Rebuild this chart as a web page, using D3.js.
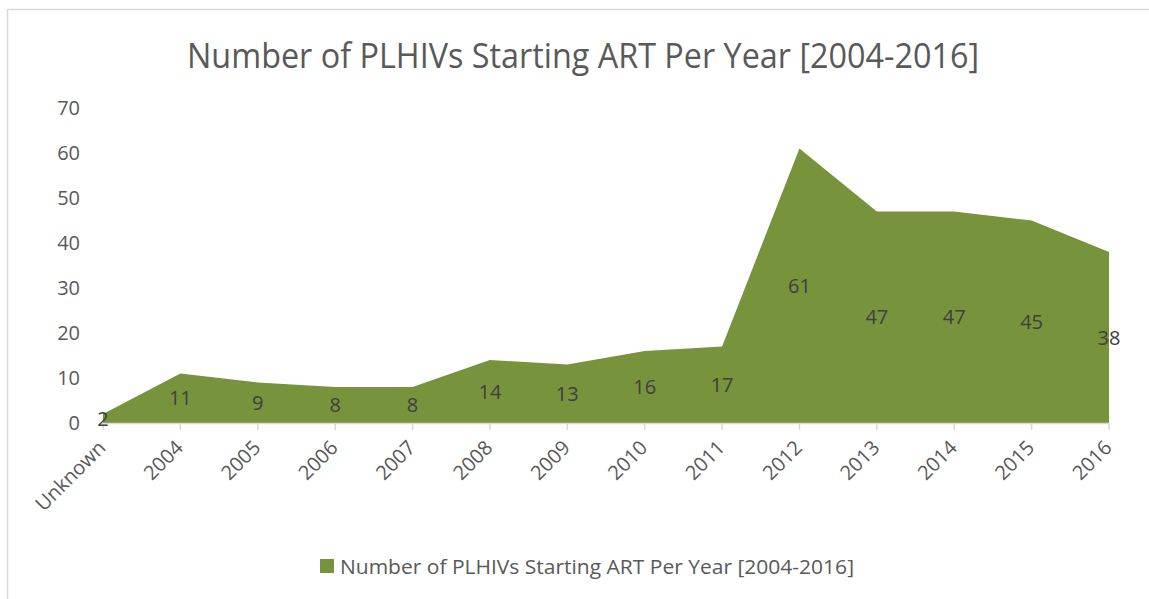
<!DOCTYPE html>
<html><head><meta charset="utf-8">
<script src="https://cdn.jsdelivr.net/npm/d3@7"></script>
<style>body{margin:0;background:#fff}svg{display:block}text{font-family:"Open Sans",sans-serif}</style>
</head><body>
<svg id="c" width="1149" height="599"></svg>
<script>
const categories = ["Unknown","2004","2005","2006","2007","2008","2009","2010","2011","2012","2013","2014","2015","2016"];
const values = [2,11,9,8,8,14,13,16,17,61,47,47,45,38];
const yTicks = [0,10,20,30,40,50,60,70];
const title = "Number of PLHIVs Starting ART Per Year [2004-2016]";

const svg = d3.select("#c");
svg.append("rect").attr("x",7.5).attr("y",9.5).attr("width",1160).attr("height",620)
  .attr("fill","#fff").attr("stroke","#d9d9d9").attr("stroke-width",1.5);

const x = d3.scalePoint().domain(categories).range([103,1109]);
const y = d3.scaleLinear().domain([0,70]).range([423,108]);

svg.append("text").attr("x",583).attr("y",68).attr("text-anchor","middle")
  .attr("font-size",34).attr("fill","#595959").attr("textLength",792).attr("lengthAdjust","spacingAndGlyphs").text(title);

// y labels
svg.selectAll(".yl").data(yTicks).enter().append("text")
  .attr("x",80).attr("y",d=>y(d)+7).attr("text-anchor","end")
  .attr("font-size",20).attr("fill","#595959").text(d=>d);

const area = d3.area().x((d,i)=>x(categories[i])).y0(y(0)).y1(d=>y(d));
svg.append("path").datum(values).attr("d",area).attr("fill","#77933c");

// axis
svg.append("line").attr("x1",103).attr("x2",1109).attr("y1",y(0)+0.5).attr("y2",y(0)+0.5)
  .attr("stroke","#d9d9d9").attr("stroke-width",1.5);
svg.selectAll(".tk").data(categories).enter().append("line")
  .attr("x1",d=>x(d)).attr("x2",d=>x(d)).attr("y1",y(0)).attr("y2",y(0)+7)
  .attr("stroke","#d9d9d9").attr("stroke-width",1.5);

svg.selectAll(".xl").data(categories).enter().append("text")
  .attr("transform",d=>`translate(${x(d)+4},${y(0)+26}) rotate(-45)`)
  .attr("text-anchor","end").attr("font-size",20).attr("fill","#595959").text(d=>d);

// data labels
svg.selectAll(".dl").data(values).enter().append("text")
  .attr("x",(d,i)=>x(categories[i])).attr("y",d=>y(d/2)+7)
  .attr("text-anchor","middle").attr("font-size",20).attr("fill","#404040").text(d=>d);

// legend
svg.append("rect").attr("x",320).attr("y",559).attr("width",14).attr("height",14).attr("fill","#77933c");
svg.append("text").attr("x",340).attr("y",574).attr("font-size",20).attr("fill","#595959")
  .attr("textLength",514).attr("lengthAdjust","spacingAndGlyphs").text(title);
</script>
</body></html>
